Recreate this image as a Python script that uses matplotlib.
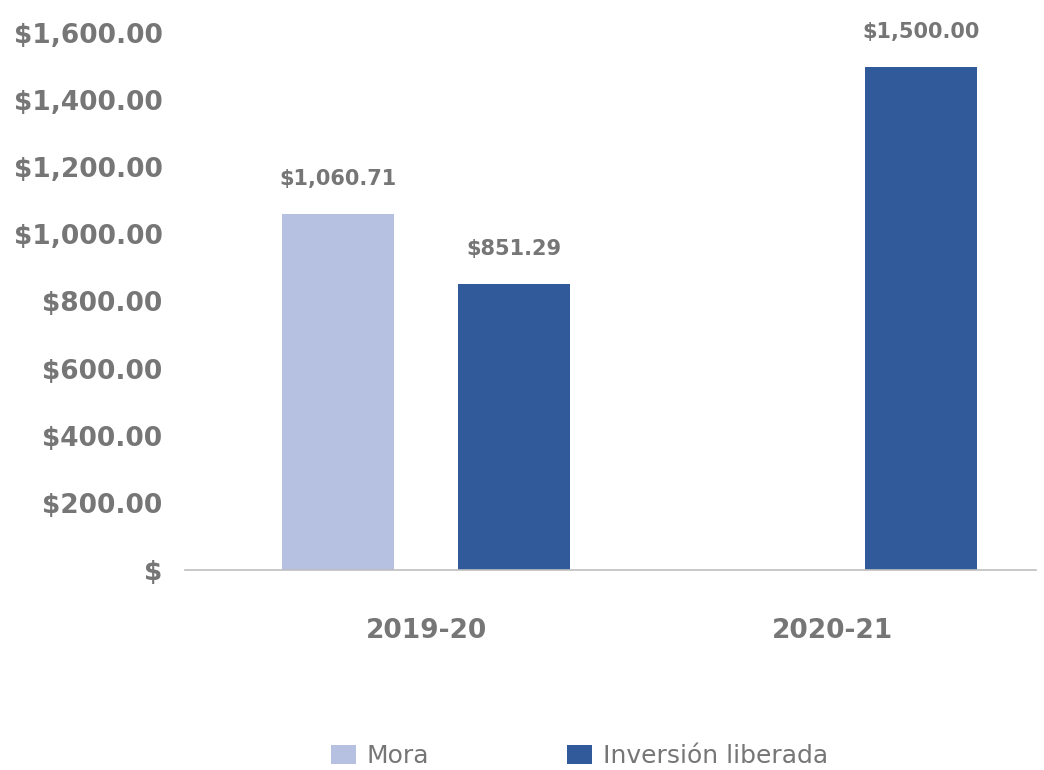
import matplotlib.pyplot as plt
import numpy as np

plt.rcParams['font.family'] = ['DejaVu Sans']

# data
years = ['2019-20', '2020-21']
mora = [1060.71, 0]
inversion = [851.29, 1500.00]
series_names = ['Mora', 'Inversión liberada']
colors = ['#B6C0E0', '#315A9A']
gray = '#767676'

fig = plt.figure(figsize=(10.44, 7.7), dpi=100)
ax = fig.add_axes([0.177, 0.26, 0.815, 0.697])

x = np.arange(len(years))
w = 0.276
off = 0.217
b1 = ax.bar(x - off, mora, w, color=colors[0], label=series_names[0])
b2 = ax.bar(x + off, inversion, w, color=colors[1], label=series_names[1])

# value labels above bars
for bars in (b1, b2):
    for r in bars:
        h = r.get_height()
        if h > 0:
            ax.annotate(f'${h:,.2f}', (r.get_x() + r.get_width() / 2, h),
                        xytext=(0, 18), textcoords='offset points',
                        ha='center', va='bottom', fontsize=15,
                        fontweight='bold', color=gray)

ax.set_xlim(-0.594, 1.5)
ax.set_ylim(0, 1600)
yt = np.arange(0, 1601, 200)
ax.set_yticks(yt)
ax.set_yticklabels(['$' if v == 0 else f'${v:,.2f}' for v in yt])
ax.set_xticks(x)
ax.set_xticklabels(years)

for s in ['top', 'right', 'left']:
    ax.spines[s].set_visible(False)
ax.spines['bottom'].set_color('#BFBFBF')
ax.spines['bottom'].set_linewidth(1.2)
ax.tick_params(axis='y', length=0, pad=16, labelsize=19, labelcolor=gray)
ax.tick_params(axis='x', length=0, pad=35, labelsize=19, labelcolor=gray)
for lbl in ax.get_yticklabels() + ax.get_xticklabels():
    lbl.set_fontweight('bold')

leg = fig.legend(loc='lower center', bbox_to_anchor=(0.555, -0.027), ncol=2,
                 frameon=False, fontsize=18, handlelength=1.0, handleheight=0.75,
                 columnspacing=5.5, handletextpad=0.45)
for t in leg.get_texts():
    t.set_color(gray)

plt.savefig('out.png', dpi=100)
